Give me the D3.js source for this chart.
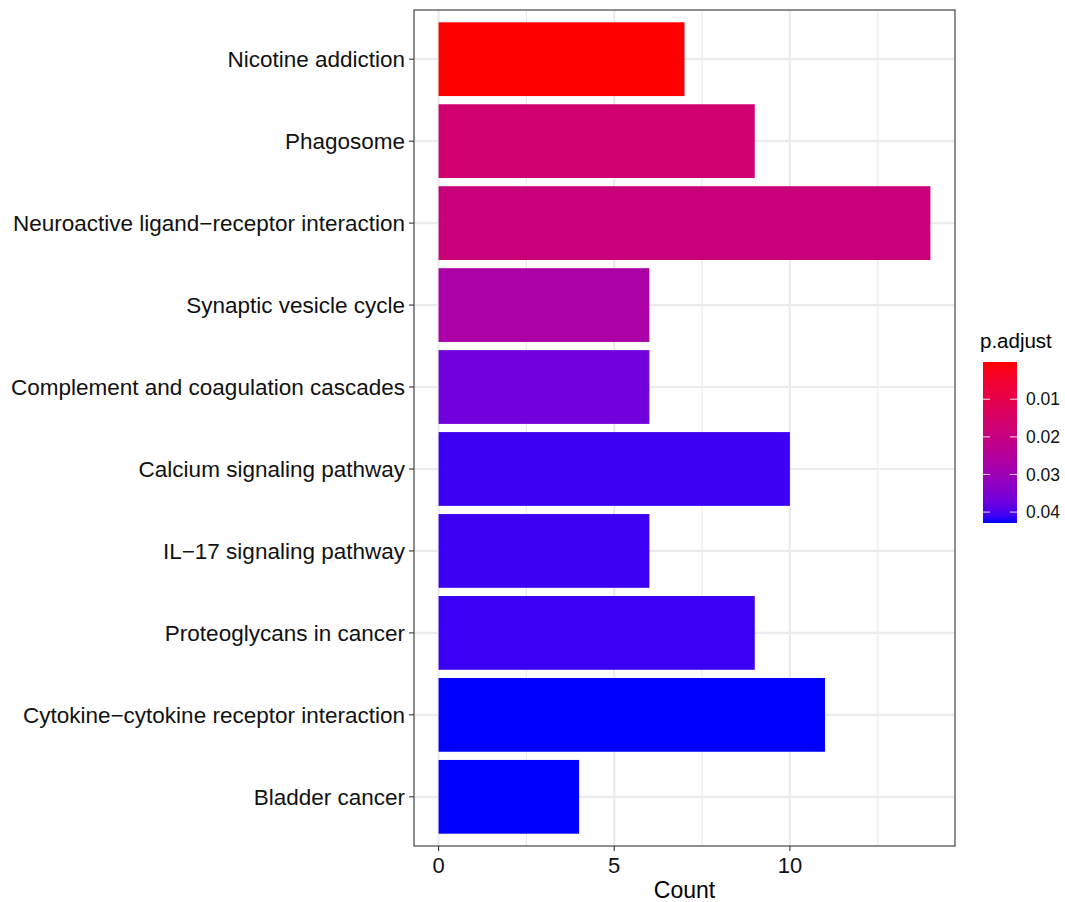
<!DOCTYPE html>
<html>
<head>
<meta charset="utf-8">
<script src="https://cdn.jsdelivr.net/npm/d3@7"></script>
<style>
  body { margin: 0; background: #fff; }
  text { font-family: "Liberation Sans", Arial, sans-serif; }
</style>
</head>
<body>
<div id="chart"></div>
<script>
const W = 1065, H = 902;
const MARGIN = { top: 10, right: 110, bottom: 56, left: 414 };

// pathways, top to bottom
const pathways = [
  "Nicotine addiction",
  "Phagosome",
  "Neuroactive ligand\u2212receptor interaction",
  "Synaptic vesicle cycle",
  "Complement and coagulation cascades",
  "Calcium signaling pathway",
  "IL\u221217 signaling pathway",
  "Proteoglycans in cancer",
  "Cytokine\u2212cytokine receptor interaction",
  "Bladder cancer"
];
const counts = [7, 9, 14, 6, 6, 10, 6, 9, 11, 4];
const padjust = [0.0001, 0.0172, 0.019, 0.027, 0.0367, 0.0412, 0.0412, 0.0414, 0.0429, 0.0429];
const xTicks = [0, 5, 10];
const legendTicks = [0.01, 0.02, 0.03, 0.04];

const svg = d3.select('#chart').append('svg')
  .attr('width', W)
  .attr('height', H);

const panelW = 955 - MARGIN.left;
const panelH = 846 - MARGIN.top;

const x = d3.scaleLinear()
  .domain([-0.7, 14.7])
  .range([MARGIN.left, MARGIN.left + panelW]);

// discrete scale with 0.6 expansion on each side
const yIdx = d3.scaleLinear()
  .domain([0.4, 10.6])
  .range([MARGIN.top, MARGIN.top + panelH]);
const y = name => yIdx(pathways.indexOf(name) + 1);
const step = yIdx(2) - yIdx(1);

const pMin = d3.min(padjust), pMax = d3.max(padjust);
const color = d3.scaleLinear()
  .domain([pMin, pMax])
  .range(["#ff0000", "#0000ff"])
  .interpolate(d3.interpolateLab);

const g = svg.append('g');

// grid
const minorX = [2.5, 7.5, 12.5];
g.selectAll('.minor').data(minorX).join('line')
  .attr('x1', d => x(d)).attr('x2', d => x(d))
  .attr('y1', MARGIN.top).attr('y2', MARGIN.top + panelH)
  .attr('stroke', '#ebebeb').attr('stroke-width', 1.2);
g.selectAll('.majorx').data(xTicks).join('line')
  .attr('x1', d => x(d)).attr('x2', d => x(d))
  .attr('y1', MARGIN.top).attr('y2', MARGIN.top + panelH)
  .attr('stroke', '#ebebeb').attr('stroke-width', 2.2);
g.selectAll('.majory').data(pathways).join('line')
  .attr('x1', MARGIN.left).attr('x2', MARGIN.left + panelW)
  .attr('y1', d => y(d)).attr('y2', d => y(d))
  .attr('stroke', '#ebebeb').attr('stroke-width', 2.2);

// bars
g.selectAll('.bar').data(pathways).join('rect')
  .attr('x', x(0))
  .attr('y', d => y(d) - step * 0.45)
  .attr('width', (d, i) => x(counts[i]) - x(0))
  .attr('height', step * 0.9)
  .attr('fill', (d, i) => color(padjust[i]));

// panel border
g.append('rect')
  .attr('x', MARGIN.left).attr('y', MARGIN.top)
  .attr('width', panelW).attr('height', panelH)
  .attr('fill', 'none').attr('stroke', '#333333').attr('stroke-width', 1.1);

// y axis
const yAxis = g.append('g');
pathways.forEach(p => {
  yAxis.append('line')
    .attr('x1', MARGIN.left - 5).attr('x2', MARGIN.left)
    .attr('y1', y(p)).attr('y2', y(p))
    .attr('stroke', '#333333').attr('stroke-width', 1.1);
  yAxis.append('text')
    .attr('x', MARGIN.left - 9)
    .attr('y', y(p))
    .attr('dy', '0.35em')
    .attr('text-anchor', 'end')
    .style('font-size', '22.5px')
    .style('fill', '#111')
    .text(p);
});

// x axis
const xAxis = g.append('g');
xTicks.forEach(t => {
  xAxis.append('line')
    .attr('x1', x(t)).attr('x2', x(t))
    .attr('y1', MARGIN.top + panelH).attr('y2', MARGIN.top + panelH + 5)
    .attr('stroke', '#333333').attr('stroke-width', 1.1);
  xAxis.append('text')
    .attr('x', x(t))
    .attr('y', MARGIN.top + panelH + 27)
    .attr('text-anchor', 'middle')
    .style('font-size', '22px')
    .style('fill', '#111')
    .text(t);
});
svg.append('text')
  .attr('x', MARGIN.left + panelW / 2)
  .attr('y', 898)
  .attr('text-anchor', 'middle')
  .style('font-size', '23px')
  .style('fill', '#000')
  .text('Count');

// legend colorbar
const lx = 983, lw = 34, ly0 = 362, ly1 = 523;
const ly = d3.scaleLinear().domain([pMin, pMax]).range([ly0, ly1]);
const defs = svg.append('defs');
const grad = defs.append('linearGradient')
  .attr('id', 'pgrad')
  .attr('x1', 0).attr('y1', 0).attr('x2', 0).attr('y2', 1);
d3.range(0, 1.0001, 0.05).forEach(t => {
  grad.append('stop')
    .attr('offset', t)
    .attr('stop-color', color(pMin + t * (pMax - pMin)));
});
svg.append('rect')
  .attr('x', lx).attr('y', ly0)
  .attr('width', lw).attr('height', ly1 - ly0)
  .attr('fill', 'url(#pgrad)');
legendTicks.forEach(t => {
  [[lx, lx + 7], [lx + lw - 7, lx + lw]].forEach(s => {
    svg.append('line')
      .attr('x1', s[0]).attr('x2', s[1])
      .attr('y1', ly(t)).attr('y2', ly(t))
      .attr('stroke', '#ffffff').attr('stroke-width', 1.1)
      .attr('opacity', 0.8);
  });
  svg.append('text')
    .attr('x', lx + lw + 9)
    .attr('y', ly(t))
    .attr('dy', '0.35em')
    .style('font-size', '17.5px')
    .style('fill', '#111')
    .text(t.toFixed(2));
});
svg.append('text')
  .attr('x', 980)
  .attr('y', 348)
  .style('font-size', '20.5px')
  .style('fill', '#000')
  .text('p.adjust');
</script>
</body>
</html>
